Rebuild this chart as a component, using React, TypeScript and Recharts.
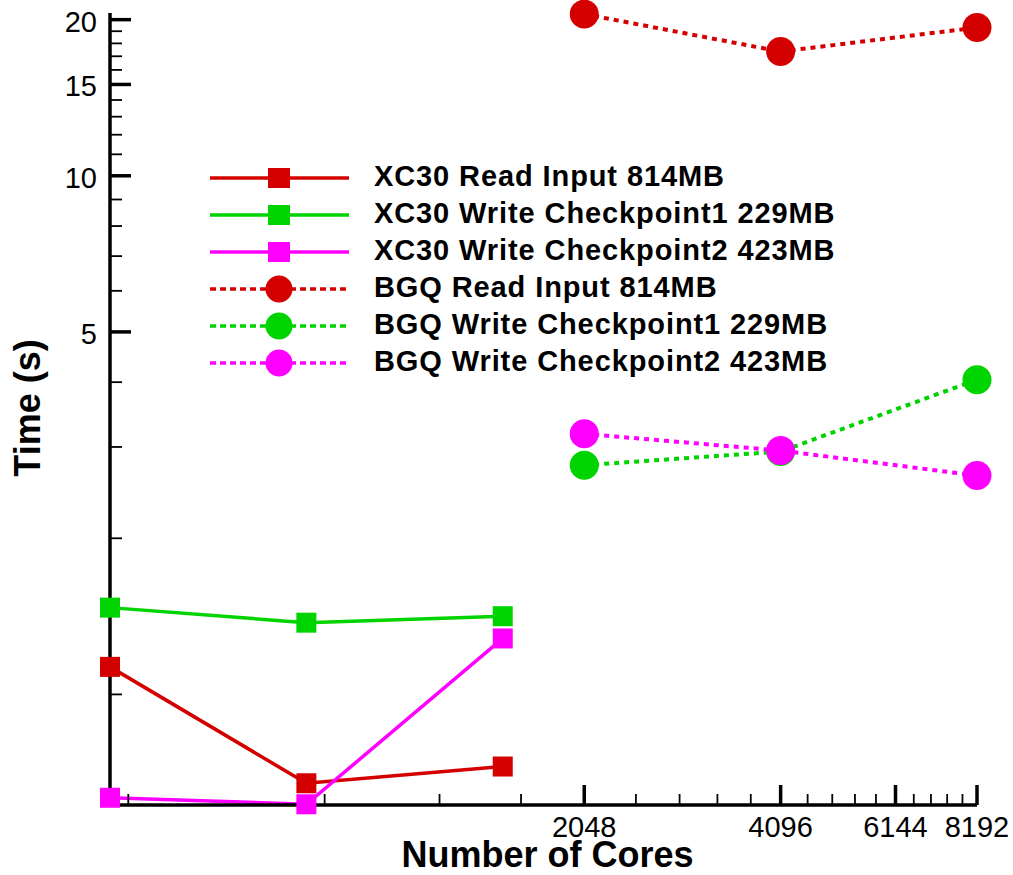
import { LineChart, Line, XAxis, YAxis, Label } from "recharts";

document.body.style.margin = "0";
document.body.style.overflow = "hidden";

const FONT = '"Liberation Sans", Arial, Helvetica, sans-serif';

// core counts per machine
const XC30_CORES = [384, 768, 1536];
const BGQ_CORES = [2048, 4096, 8192];

// times in seconds
const XC30_READ = [1.13, 0.674, 0.726];
const XC30_WRITE1 = [1.47, 1.375, 1.415];
const XC30_WRITE2 = [0.632, 0.614, 1.282];
const BGQ_READ = [20.5, 17.36, 19.31];
const BGQ_WRITE1 = [2.766, 2.94, 4.045];
const BGQ_WRITE2 = [3.18, 2.952, 2.642];

const X_TICKS = [
  409.6, 819.2, 1228.8, 1638.4, 2048,
  2457.6, 2867.2, 3276.8, 3686.4, 4096,
  4505.6, 4915.2, 5324.8, 5734.4, 6144,
  6553.6, 6963.2, 7372.8, 7782.4, 8192,
];
const X_MAJOR = [2048, 4096, 6144, 8192];
const Y_TICKS = [1, 2, 3, 4, 5, 6, 7, 8, 9, 10, 11, 12, 13, 14, 15, 16, 17, 18, 19, 20];
const Y_MAJOR = [5, 10, 15, 20];

const RED = "#d40000";
const GREEN = "#00d400";
const MAGENTA = "#ff00ff";

interface Series {
  name: string;
  cores: number[];
  values: number[];
  color: string;
  dashed: boolean;
}

const SERIES: Series[] = [
  { name: "XC30 Read Input 814MB", cores: XC30_CORES, values: XC30_READ, color: RED, dashed: false },
  { name: "XC30 Write Checkpoint1 229MB", cores: XC30_CORES, values: XC30_WRITE1, color: GREEN, dashed: false },
  { name: "XC30 Write Checkpoint2 423MB", cores: XC30_CORES, values: XC30_WRITE2, color: MAGENTA, dashed: false },
  { name: "BGQ Read Input 814MB", cores: BGQ_CORES, values: BGQ_READ, color: RED, dashed: true },
  { name: "BGQ Write Checkpoint1 229MB", cores: BGQ_CORES, values: BGQ_WRITE1, color: GREEN, dashed: true },
  { name: "BGQ Write Checkpoint2 423MB", cores: BGQ_CORES, values: BGQ_WRITE2, color: MAGENTA, dashed: true },
];

function marker(s: Series) {
  return (p: any) => {
    if (p.cx == null || p.cy == null) return <g key={p.index} />;
    return s.dashed ? (
      <circle key={p.index} cx={p.cx} cy={p.cy} r={14.5} fill={s.color} />
    ) : (
      <rect key={p.index} x={p.cx - 10} y={p.cy - 10} width={20} height={20} fill={s.color} />
    );
  };
}

function XTick(props: any) {
  const { x, y, payload } = props;
  const major = X_MAJOR.includes(payload.value);
  return (
    <g>
      <line x1={x} x2={x} y1={y} y2={y - (major ? 20 : 11)} stroke="#000" strokeWidth={major ? 3.5 : 1.8} />
      {major && (
        <text x={x} y={y + 32} textAnchor="middle" fontSize={29} fontFamily={FONT} fill="#000">
          {payload.value}
        </text>
      )}
    </g>
  );
}

function YTick(props: any) {
  const { x, y, payload } = props;
  const major = Y_MAJOR.includes(payload.value);
  return (
    <g>
      <line x1={x} x2={x + (major ? 21 : 12)} y1={y} y2={y} stroke="#000" strokeWidth={major ? 3.5 : 1.8} />
      {major && (
        <text x={x - 13} y={y + 12} textAnchor="end" fontSize={29} fontFamily={FONT} fill="#000">
          {payload.value}
        </text>
      )}
    </g>
  );
}

// legend box drawn by hand, sits over the upper-left part of the plot
function ChartLegend() {
  return (
    <div style={{ position: "absolute", left: 190, top: 155 }}>
      <svg width={700} height={230}>
        {SERIES.map((s, i) => {
          const cy = 23 + i * 37;
          return (
            <g key={s.name}>
              <line
                x1={20}
                x2={159}
                y1={cy}
                y2={cy}
                stroke={s.color}
                strokeWidth={3.5}
                strokeDasharray={s.dashed ? "6 4" : undefined}
              />
              {s.dashed ? (
                <circle cx={89} cy={cy} r={13.5} fill={s.color} />
              ) : (
                <rect x={78} y={cy - 10} width={22} height={20} fill={s.color} />
              )}
              <text
                x={184}
                y={cy + 7.5}
                fontSize={29}
                letterSpacing={0.9}
                fontWeight="bold"
                fontFamily={FONT}
                fill="#000"
              >
                {s.name}
              </text>
            </g>
          );
        })}
      </svg>
    </div>
  );
}

export default function App() {
  return (
    <div style={{ position: "relative", width: 1013, height: 875, background: "#fff" }}>
      <LineChart width={1013} height={875} margin={{ top: 13, right: 36, bottom: 0, left: 0 }}>
        <XAxis
          dataKey="x"
          type="number"
          scale="log"
          domain={[384, 8192]}
          ticks={X_TICKS}
          interval={0}
          height={70}
          tickSize={0}
          tickMargin={0}
          tickLine={false}
          tick={<XTick />}
          axisLine={{ stroke: "#000", strokeWidth: 3.5 }}
        >
          <Label
            content={(p: any) => (
              <text
                x={p.viewBox.x + p.viewBox.width / 2 + 4}
                y={p.viewBox.y + 62}
                textAnchor="middle"
                fontSize={36}
                fontWeight="bold"
                fontFamily={FONT}
                fill="#000"
              >
                Number of Cores
              </text>
            )}
          />
        </XAxis>
        <YAxis
          dataKey="y"
          type="number"
          scale="log"
          domain={[0.612, 20.6]}
          ticks={Y_TICKS}
          interval={0}
          width={110}
          tickSize={0}
          tickMargin={0}
          tickLine={false}
          tick={<YTick />}
          axisLine={{ stroke: "#000", strokeWidth: 3.5 }}
        >
          <Label
            content={() => (
              <text
                x={40}
                y={408}
                transform="rotate(-90 40 408)"
                textAnchor="middle"
                fontSize={36}
                fontWeight="bold"
                fontFamily={FONT}
                fill="#000"
              >
                Time (s)
              </text>
            )}
          />
        </YAxis>
        {SERIES.map((s) => (
          <Line
            key={s.name}
            name={s.name}
            data={s.cores.map((c, i) => ({ x: c, y: s.values[i] }))}
            dataKey="y"
            stroke={s.color}
            strokeWidth={s.dashed ? 4 : 3.5}
            strokeDasharray={s.dashed ? "5 5" : undefined}
            dot={marker(s)}
            activeDot={false}
            isAnimationActive={false}
          />
        ))}
      </LineChart>
      <ChartLegend />
    </div>
  );
}
